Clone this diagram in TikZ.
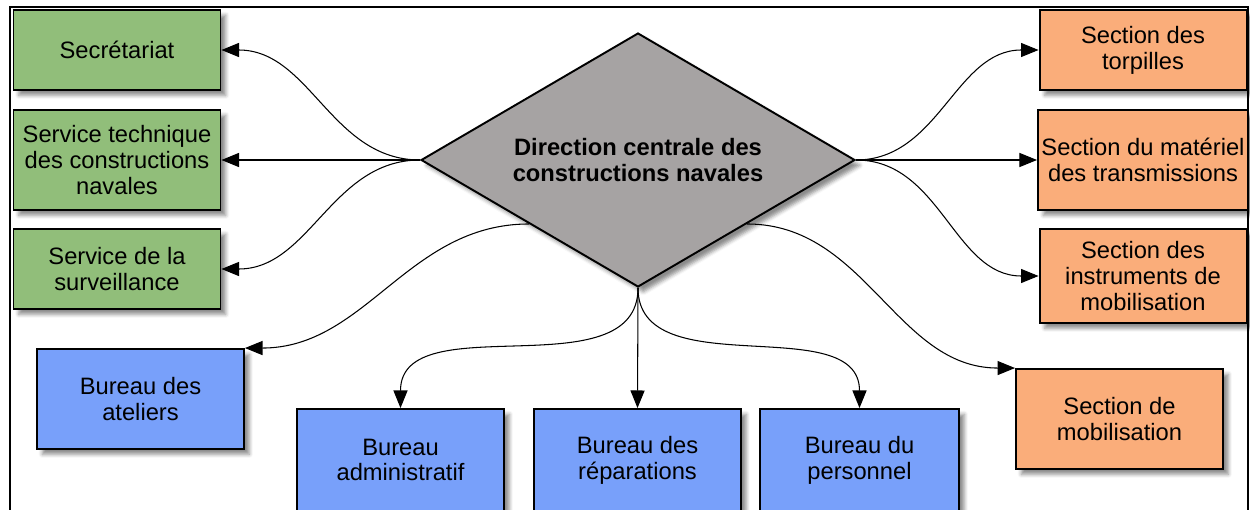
\documentclass[tikz,border=0pt]{standalone}
\usepackage{fontspec}
\setmainfont{Liberation Sans}
\usetikzlibrary{shapes,arrows.meta,shadows.blur}
\definecolor{servgreen}{RGB}{145,190,122}
\definecolor{secorange}{RGB}{250,173,122}
\definecolor{burblue}{RGB}{120,160,250}
\definecolor{dirgray}{RGB}{166,163,163}

\begin{document}
\begin{tikzpicture}[x=0.02cm,y=-0.02cm,>={Triangle[length=10pt,width=8pt]}]
        % organisation of the naval construction service
        \tikzstyle{block} = [draw,rectangle,line width=1.1pt,minimum width=4.14cm,inner sep=2pt,align=center,font=\fontsize{13.5}{14.7}\selectfont,blur shadow={shadow xshift=3pt,shadow yshift=-3pt,shadow opacity=45}];
        \tikzstyle{link} = [->,line width=0.6pt];

        \useasboundingbox (0,0) rectangle (1250,510);
        \draw[line width=1.2pt] (10,7) rectangle (1248,530);

        \node[diamond,draw,fill=dirgray,line width=1.1pt,aspect=1.71,minimum width=8.68cm,minimum height=5.08cm,inner sep=0pt,align=center,font=\bfseries\fontsize{13.5}{14.7}\selectfont,blur shadow={shadow xshift=3pt,shadow yshift=-3pt,shadow opacity=45}] (direction) at (638,160) {Direction centrale des\\constructions navales};

        \node[block,fill=servgreen,minimum height=1.6cm] (secretariat) at (117,50) {Secrétariat};
        \node[block,fill=servgreen,minimum height=2cm] (service_tech) at (117,160) {Service technique\\des constructions\\navales};
        \node[block,fill=servgreen,minimum height=1.6cm] (surveillance) at (117,269) {Service de la\\surveillance};

        \node[block,fill=secorange,minimum height=1.6cm] (torpilles) at (1143,50) {Section des\\torpilles};
        \node[block,fill=secorange,minimum height=2cm] (materiel) at (1143,160) {Section du matériel\\des transmissions};
        \node[block,fill=secorange,minimum height=1.88cm] (instruments) at (1143,276) {Section des\\instruments de\\mobilisation};
        \node[block,fill=secorange,minimum height=2cm] (mobilisation) at (1119.5,419) {Section de\\mobilisation};

        \node[block,fill=burblue,minimum height=2cm] (ateliers) at (140.5,399) {Bureau des\\ateliers};
        \node[block,fill=burblue,minimum height=2.04cm] (administratif) at (400.5,460) {Bureau\\administratif};
        \node[block,fill=burblue,minimum height=2.04cm] (reparations) at (637.5,460) {Bureau des\\réparations};
        \node[block,fill=burblue,minimum height=2.04cm,minimum width=3.98cm] (personnel) at (859.5,460) {Bureau du\\personnel};

        \draw[link] (direction.west) to[out=180,in=0] (secretariat.east);
        \draw[link] (direction.west) -- (service_tech.east);
        \draw[link] (direction.west) to[out=180,in=0] (surveillance.east);
        \draw[link] (direction.east) to[out=0,in=180] (torpilles.west);
        \draw[link] (direction.east) -- (materiel.west);
        \draw[link] (direction.east) to[out=0,in=180] (instruments.west);
        \draw[link] (direction.south west) to[out=180,in=0] (ateliers.north east);
        \draw[link] (direction.south east) to[out=0,in=180] (mobilisation.north west);
        \draw[link] (direction.south) to[out=-90,in=90] (administratif.north);
        \draw[link] (direction.south) -- (reparations.north);
        \draw[link] (direction.south) to[out=-90,in=90] (personnel.north);

    \end{tikzpicture}
\end{document}
